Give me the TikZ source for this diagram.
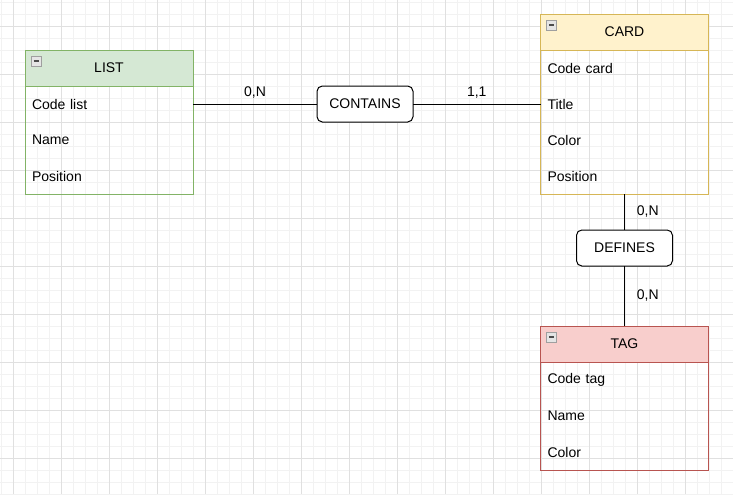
\documentclass[tikz,border=0pt]{standalone}
\usepackage{fontspec}
\setmainfont{Liberation Sans}
\usepackage{xcolor}
\usetikzlibrary{positioning,fit}

\definecolor{listfill}{HTML}{D5E8D4}
\definecolor{listline}{HTML}{82B366}
\definecolor{cardfill}{HTML}{FFF2CC}
\definecolor{cardline}{HTML}{D6B656}
\definecolor{tagfill}{HTML}{F8CECC}
\definecolor{tagline}{HTML}{B85450}

\begin{document}
\begin{tikzpicture}[
  x=0.75pt, y=-0.75pt,
  every node/.style = {font=\fontsize{10.5pt}{12.5pt}\selectfont, outer sep=0pt},
  minor/.style  = {line width=0.75pt, black!5},
  major/.style  = {line width=0.75pt, black!12},
  head/.style   = {draw, line width=0.75pt, minimum width=126pt,
                   minimum height=27pt, inner sep=0pt},
  attr/.style   = {minimum width=126pt, minimum height=27pt, inner xsep=5.25pt,
                   inner ysep=0pt, text width=115.5pt, align=left},
  frame/.style  = {draw, line width=0.75pt, inner sep=0pt},
  rel/.style    = {draw, fill=white, rounded corners=4pt, line width=0.75pt,
                   minimum width=72pt, minimum height=27pt, inner sep=0pt},
  conn/.style   = {line width=0.75pt},
  mult/.style   = {above, yshift=1pt},
  multv/.style  = {right, xshift=6pt},
  icon/.style   = {draw=gray!75, fill=gray!20, line width=0.6pt}
]

\useasboundingbox (0,0) rectangle (733,494);
\fill[white] (0,0) rectangle (733,494);
\foreach \gx in {1,13,...,733} \draw[minor] (\gx,0) -- (\gx,494);
\foreach \gy in {2,14,...,494} \draw[minor] (0,\gy) -- (733,\gy);
\foreach \gx in {13,61,...,733} \draw[major] (\gx,0) -- (\gx,494);
\foreach \gy in {26,74,...,494} \draw[major] (0,\gy) -- (733,\gy);

\node[head, fill=listfill, draw=listline] (listh) at (109,68) {LIST};
\node[attr, below=0pt of listh] (list1) {Code list};
\node[attr, below=0pt of list1] (list2) {Name};
\node[attr, below=0pt of list2] (list3) {Position};
\node[frame, draw=listline, fit=(listh)(list3)] (list) {};

\node[head, fill=cardfill, draw=cardline] (cardh) at (624.5,32) {CARD};
\node[attr, below=0pt of cardh] (card1) {Code card};
\node[attr, below=0pt of card1] (card2) {Title};
\node[attr, below=0pt of card2] (card3) {Color};
\node[attr, below=0pt of card3] (card4) {Position};
\node[frame, draw=cardline, fit=(cardh)(card4)] (card) {};

\node[head, fill=tagfill, draw=tagline] (tagh) at (624.5,344) {TAG};
\node[attr, below=0pt of tagh] (tag1) {Code tag};
\node[attr, below=0pt of tag1] (tag2) {Name};
\node[attr, below=0pt of tag2] (tag3) {Color};
\node[frame, draw=tagline, fit=(tagh)(tag3)] (tag) {};

\foreach \e in {listh,cardh,tagh} {
  \draw[icon] ([shift={(6,6)}]\e.north west) rectangle ++(10,10);
  \draw[line width=1pt, black!70] ([shift={(8.5,11)}]\e.north west) -- ++(5,0);
}

\node[rel] (contains) at (365,104) {CONTAINS};
\node[rel] (defines)  at (624.5,248) {DEFINES};

\draw[conn] (list1) -- node[mult] {0,N} (contains);
\draw[conn] (contains) -- node[mult] {1,1} (card2);
\draw[conn] (card4) -- node[multv] {0,N} (defines);
\draw[conn] (defines) -- node[multv] {0,N} (tagh);

\end{tikzpicture}
\end{document}
